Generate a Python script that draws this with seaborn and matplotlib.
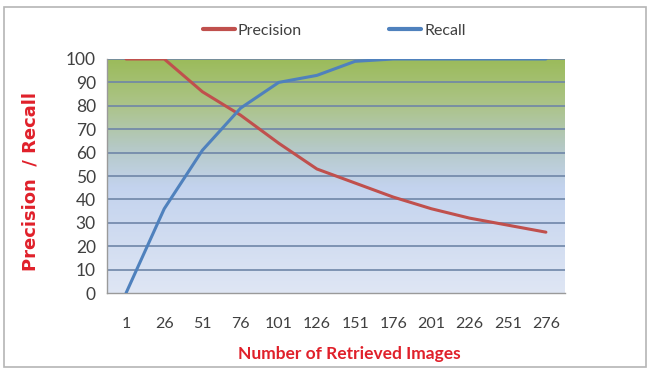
import numpy as np
import pandas as pd
import matplotlib
matplotlib.use("Agg")
import matplotlib.pyplot as plt
from matplotlib.colors import LinearSegmentedColormap
from matplotlib.patches import Rectangle
from matplotlib.lines import Line2D
import seaborn as sns

retrieved = ["1", "26", "51", "76", "101", "126", "151", "176", "201", "226", "251", "276"]
precision = [100, 100, 86, 76, 64, 53, 47, 41, 36, 32, 29, 26]
recall = [0, 36, 61, 79, 90, 93, 99, 100, 100, 100, 100, 100]
y_ticks = [0, 10, 20, 30, 40, 50, 60, 70, 80, 90, 100]

sns.set_theme(style="white")
plt.rcParams["font.family"] = ["Lato", "DejaVu Sans"]

df = pd.DataFrame({
    "pos": list(range(len(retrieved))) * 2,
    "value": precision + recall,
    "series": ["Precision"] * len(retrieved) + ["Recall"] * len(retrieved),
})

fig = plt.figure(figsize=(6.5, 3.71), dpi=100)
fig.patches.append(Rectangle((0.006, 0.012), 0.988, 0.97, transform=fig.transFigure,
                             fill=False, edgecolor="#b5b5b5", linewidth=1.2))
ax = fig.add_axes([0.1646, 0.2102, 0.7046, 0.6308])

# vertical green-to-blue background fill
cmap = LinearSegmentedColormap.from_list(
    "bg", [(0.0, "#dfe6f4"), (0.45, "#c3d3ee"), (0.62, "#b5c9c6"),
           (0.8, "#acc489"), (1.0, "#9bbb59")])
grad = np.linspace(0, 1, 256).reshape(-1, 1)
ax.imshow(grad, aspect="auto", cmap=cmap, origin="lower",
          extent=[-0.5, 11.5, 0, 100], zorder=0)

palette = {"Precision": "#c0504d", "Recall": "#4f81bd"}
sns.lineplot(data=df, x="pos", y="value", hue="series", palette=palette,
             linewidth=2.2, ax=ax, legend=False, zorder=3)

for y in y_ticks[1:]:
    ax.axhline(y, color="#6f86a8", linewidth=1.2, zorder=1)

ax.set_xlim(-0.5, 11.5)
ax.set_ylim(0, 100)
ax.set_yticks(y_ticks)
ax.set_xticks(range(len(retrieved)))
ax.set_xticklabels(retrieved)
ax.set_xticks(np.arange(-0.5, 12, 1), minor=True)
ax.tick_params(axis="x", which="major", length=0, pad=17, labelsize=11.5, labelcolor="#404040")
ax.tick_params(axis="x", which="minor", length=5, color="#9a9a9a", width=1, direction="out")
ax.tick_params(axis="y", length=5, color="#9a9a9a", width=1, direction="out",
               labelsize=12.5, labelcolor="#404040", pad=3)
for s in ["top", "right"]:
    ax.spines[s].set_visible(False)
for s in ["left", "bottom"]:
    ax.spines[s].set_color("#9a9a9a")
    ax.spines[s].set_linewidth(1)

ax.set_xlabel("")
ax.set_ylabel("")
fig.text(0.537, 0.046, "Number of Retrieved Images", color="#e0202a", fontsize=12.5,
         fontweight="bold", ha="center", va="center")
fig.text(0.047, 0.51, "Precision  / Recall", rotation=90, color="#e0202a",
         fontsize=13, fontweight="bold", ha="center", va="center",
         family=["DejaVu Sans"])

handles = [Line2D([], [], color=palette["Precision"], linewidth=3),
           Line2D([], [], color=palette["Recall"], linewidth=3)]
fig.legend(handles, ["Precision", "Recall"], loc="center left", bbox_to_anchor=(0.312, 0.918),
           ncol=2, frameon=False, fontsize=11.5, handlelength=2.0, handletextpad=0.2,
           columnspacing=5.45, labelcolor="#404040", borderpad=0, borderaxespad=0)

fig.savefig("out.png", dpi=100)
